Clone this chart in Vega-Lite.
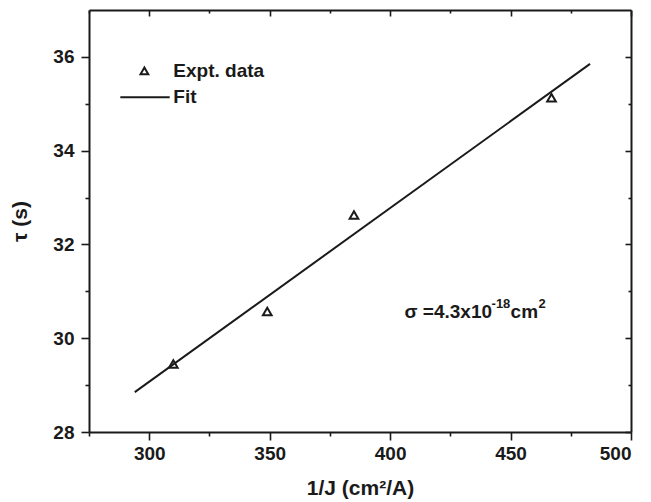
{
  "$schema": "https://vega.github.io/schema/vega-lite/v6.json",
  "width": 542,
  "height": 422,
  "autosize": {"type": "none"},
  "padding": {"left": 89, "top": 10, "right": 20, "bottom": 70},
  "background": "white",
  "config": {
    "view": {"stroke": null},
    "font": "Liberation Sans",
    "axis": {
      "domainColor": "#1a1a1a",
      "domainWidth": 2,
      "tickColor": "#1a1a1a",
      "tickWidth": 1.6,
      "grid": false,
      "labelFont": "Liberation Sans",
      "labelFontWeight": "bold",
      "labelFontSize": 19,
      "labelColor": "#1a1a1a",
      "titleFont": "Liberation Sans",
      "titleFontWeight": "bold",
      "titleFontSize": 21,
      "titleColor": "#1a1a1a"
    }
  },
  "layer": [
    {
      "data": {"values": [{"J": 294, "tau": 28.85}, {"J": 483, "tau": 35.85}]},
      "mark": {"type": "line", "color": "#1a1a1a", "strokeWidth": 2},
      "encoding": {
        "x": {
          "field": "J", "type": "quantitative",
          "scale": {"domain": [275, 500], "nice": false, "zero": false},
          "axis": {
            "orient": "bottom",
            "values": [275, 300, 325, 350, 375, 400, 425, 450, 475, 500],
            "labelExpr": "datum.value % 50 === 0 ? datum.label : ''",
            "tickSize": {"condition": {"test": "datum.value % 50 === 0", "value": 8}, "value": 4},
            "labelPadding": 4,
            "title": "1/J  (cm²/A)",
            "titlePadding": 14
          }
        },
        "y": {
          "field": "tau", "type": "quantitative",
          "scale": {"domain": [28, 37], "nice": false, "zero": false},
          "axis": {
            "orient": "left",
            "values": [28, 29, 30, 31, 32, 33, 34, 35, 36],
            "labelExpr": "datum.value % 2 === 0 ? datum.label : ''",
            "tickSize": {"condition": {"test": "datum.value % 2 === 0", "value": 8}, "value": 4},
            "labelPadding": 7,
            "title": "τ (s)",
            "titlePadding": 22
          }
        }
      }
    },
    {
      "data": {"values": [
        {"J": 310, "tau": 29.45},
        {"J": 349, "tau": 30.57},
        {"J": 385, "tau": 32.63},
        {"J": 467, "tau": 35.13}
      ]},
      "mark": {"type": "point", "shape": "triangle-up", "filled": false, "color": "#1a1a1a", "strokeWidth": 2, "size": 75, "opacity": 1},
      "encoding": {
        "x": {
          "field": "J", "type": "quantitative",
          "axis": {
            "orient": "top",
            "values": [275, 300, 325, 350, 375, 400, 425, 450, 475, 500],
            "labels": false,
            "title": null,
            "tickSize": {"condition": {"test": "datum.value % 50 === 0", "value": -6}, "value": -3}
          }
        },
        "y": {
          "field": "tau", "type": "quantitative",
          "axis": {
            "orient": "right",
            "values": [28, 29, 30, 31, 32, 33, 34, 35, 36],
            "labels": false,
            "title": null,
            "tickSize": {"condition": {"test": "datum.value % 2 === 0", "value": -6}, "value": -3}
          }
        }
      }
    },
    {
      "data": {"values": [{}]},
      "mark": {"type": "point", "shape": "triangle-up", "filled": false, "color": "#1a1a1a", "strokeWidth": 2, "size": 60, "opacity": 1},
      "encoding": {"x": {"datum": 298, "axis": null}, "y": {"datum": 35.7, "axis": null}}
    },
    {
      "data": {"values": [{}]},
      "mark": {"type": "text", "align": "left", "baseline": "middle", "fontSize": 19, "fontWeight": "bold", "color": "#1a1a1a"},
      "encoding": {"x": {"datum": 310, "axis": null}, "y": {"datum": 35.7, "axis": null}, "text": {"value": "Expt. data"}}
    },
    {
      "data": {"values": [{}]},
      "mark": {"type": "rule", "color": "#1a1a1a", "strokeWidth": 2},
      "encoding": {"x": {"datum": 288, "axis": null}, "x2": {"datum": 308.5}, "y": {"datum": 35.14, "axis": null}}
    },
    {
      "data": {"values": [{}]},
      "mark": {"type": "text", "align": "left", "baseline": "middle", "fontSize": 19, "fontWeight": "bold", "color": "#1a1a1a"},
      "encoding": {"x": {"datum": 310, "axis": null}, "y": {"datum": 35.14, "axis": null}, "text": {"value": "Fit"}}
    },
    {
      "data": {"values": [{}]},
      "mark": {"type": "text", "align": "left", "baseline": "alphabetic", "fontSize": 19, "fontWeight": "bold", "color": "#1a1a1a"},
      "encoding": {"x": {"datum": 406, "axis": null}, "y": {"datum": 30.43, "axis": null}, "text": {"value": "σ =4.3x10"}}
    },
    {
      "data": {"values": [{}]},
      "mark": {"type": "text", "align": "left", "baseline": "alphabetic", "fontSize": 13, "fontWeight": "bold", "color": "#1a1a1a", "dx": 87, "dy": -10},
      "encoding": {"x": {"datum": 406, "axis": null}, "y": {"datum": 30.43, "axis": null}, "text": {"value": "-18"}}
    },
    {
      "data": {"values": [{}]},
      "mark": {"type": "text", "align": "left", "baseline": "alphabetic", "fontSize": 19, "fontWeight": "bold", "color": "#1a1a1a", "dx": 106},
      "encoding": {"x": {"datum": 406, "axis": null}, "y": {"datum": 30.43, "axis": null}, "text": {"value": "cm"}}
    },
    {
      "data": {"values": [{}]},
      "mark": {"type": "text", "align": "left", "baseline": "alphabetic", "fontSize": 13, "fontWeight": "bold", "color": "#1a1a1a", "dx": 134, "dy": -10},
      "encoding": {"x": {"datum": 406, "axis": null}, "y": {"datum": 30.43, "axis": null}, "text": {"value": "2"}}
    }
  ]
}
